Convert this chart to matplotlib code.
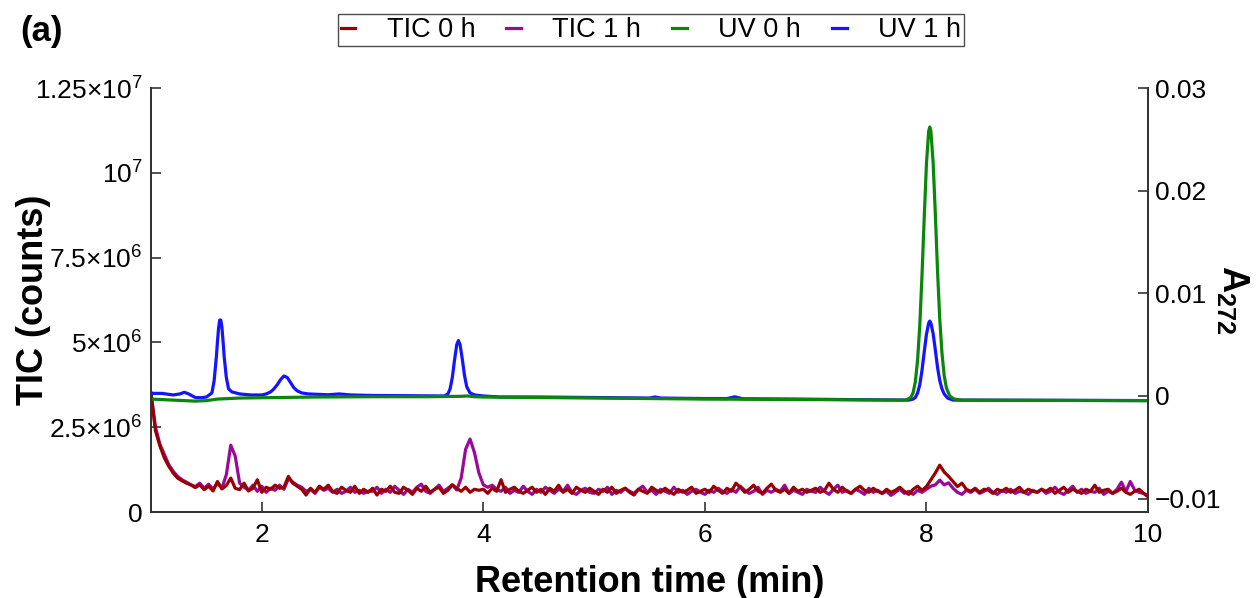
import numpy as np
import matplotlib
matplotlib.use("Agg")
import matplotlib.pyplot as plt

plt.rcParams['font.family'] = ['Liberation Sans', 'DejaVu Sans']
plt.rcParams['mathtext.fontset'] = 'custom'
plt.rcParams['mathtext.rm'] = 'Liberation Sans'
plt.rcParams['mathtext.it'] = 'Liberation Sans:italic'
plt.rcParams['mathtext.bf'] = 'Liberation Sans:bold'

# ---------------- data ----------------
# TIC sampled every 0.04 min from 1.00 to 10.00 (values in 10^6 counts)
tic_time = np.round(1.0 + 0.04 * np.arange(226), 2)

tic_0h = (
    [3.5, 2.4, 1.95, 1.6, 1.35, 1.15, 1.0, 0.92, 0.85, 0.8, 0.72, 0.8, 0.66, 0.76, 0.62, 0.9, 0.68, 0.78, 1.0, 0.7, 0.66, 0.85, 0.62, 0.7, 0.95]
    + [0.58, 0.73, 0.67, 0.79, 0.70, 0.73, 1.05, 0.85, 0.76, 0.67, 0.5, 0.70, 0.58, 0.76, 0.67, 0.79, 0.61, 0.55, 0.73, 0.64, 0.58, 0.76, 0.55, 0.67, 0.58]
    + [0.70, 0.5, 0.67, 0.61, 0.76, 0.58, 0.55, 0.73, 0.64, 0.52, 0.70, 0.61, 0.76, 0.58, 0.67, 0.73, 0.55, 0.64, 0.80, 0.70, 0.61, 0.73, 0.58, 0.67, 0.64]
    + [0.67, 0.55, 0.70, 0.61, 0.95, 0.58, 0.67, 0.73, 0.61, 0.55, 0.64, 0.73, 0.58, 0.67, 0.52, 0.70, 0.61, 0.79, 0.58, 0.67, 0.55, 0.73, 0.64, 0.58, 0.70]
    + [0.61, 0.52, 0.67, 0.58, 0.73, 0.55, 0.64, 0.70, 0.58, 0.5, 0.67, 0.61, 0.55, 0.73, 0.64, 0.58, 0.70, 0.61, 0.52, 0.67, 0.58, 0.64, 0.73, 0.55, 0.61]
    + [0.67, 0.58, 0.76, 0.64, 0.55, 0.70, 0.61, 0.85, 0.73, 0.58, 0.67, 0.79, 0.61, 0.55, 0.70, 0.82, 0.64, 0.58, 0.67, 0.55, 0.73, 0.61, 0.67, 0.58, 0.64]
    + [0.70, 0.58, 0.64, 0.85, 0.67, 0.58, 0.73, 0.61, 0.55, 0.67, 0.76, 0.64, 0.58, 0.70, 0.61, 0.55, 0.67, 0.58, 0.64, 0.73, 0.61, 0.52, 0.67, 0.76, 0.64]
    + [0.75, 0.95, 1.15, 1.38, 1.18, 1.05, 0.9, 0.75, 0.85, 0.67, 0.61, 0.70, 0.58, 0.67, 0.64, 0.55, 0.67, 0.61, 0.70, 0.58, 0.64, 0.73, 0.58, 0.67, 0.61]
    + [0.58, 0.67, 0.61, 0.70, 0.55, 0.64, 0.73, 0.58, 0.67, 0.61, 0.55, 0.67, 0.61, 0.79, 0.58, 0.64, 0.67, 0.55, 0.61, 0.70, 0.58, 0.52, 0.61, 0.67, 0.55]
    + [0.45]
)

tic_1h = (
    [3.5, 2.5, 2.0, 1.7, 1.4, 1.2, 1.05, 0.95, 0.88, 0.8, 0.75, 0.85, 0.7, 0.82, 0.67, 0.85, 0.70, 1.1, 1.97, 1.65, 0.85, 0.73, 0.64, 0.79, 0.61]
    + [0.76, 0.58, 0.70, 0.64, 0.79, 0.67, 0.98, 0.88, 0.79, 0.73, 0.61, 0.67, 0.55, 0.73, 0.64, 0.70, 0.58, 0.67, 0.55, 0.61, 0.73, 0.58, 0.64, 0.55, 0.61]
    + [0.61, 0.73, 0.55, 0.67, 0.58, 0.76, 0.64, 0.52, 0.67, 0.58, 0.73, 0.82, 0.61, 0.55, 0.67, 0.79, 0.61, 0.70, 0.80, 0.65, 1.0, 1.85, 2.15, 1.75, 1.15]
    + [0.8, 0.73, 0.79, 0.67, 0.61, 0.73, 0.55, 0.64, 0.58, 0.76, 0.61, 0.52, 0.67, 0.58, 0.73, 0.64, 0.55, 0.67, 0.61, 0.79, 0.58, 0.52, 0.64, 0.70, 0.58]
    + [0.55, 0.67, 0.61, 0.73, 0.52, 0.64, 0.58, 0.70, 0.61, 0.55, 0.67, 0.76, 0.58, 0.64, 0.52, 0.67, 0.61, 0.55, 0.73, 0.58, 0.64, 0.52, 0.61, 0.67, 0.58]
    + [0.52, 0.64, 0.58, 0.70, 0.61, 0.55, 0.67, 0.58, 0.76, 0.64, 0.55, 0.61, 0.73, 0.52, 0.64, 0.58, 0.67, 0.61, 0.79, 0.55, 0.64, 0.58, 0.52, 0.67, 0.61]
    + [0.58, 0.73, 0.61, 0.52, 0.67, 0.79, 0.58, 0.64, 0.55, 0.67, 0.61, 0.52, 0.70, 0.58, 0.64, 0.55, 0.61, 0.49, 0.58, 0.67, 0.55, 0.61, 0.52, 0.64, 0.58]
    + [0.67, 0.76, 0.8, 0.94, 0.8, 0.86, 0.70, 0.58, 0.52, 0.64, 0.58, 0.67, 0.55, 0.61, 0.70, 0.58, 0.52, 0.64, 0.58, 0.67, 0.55, 0.61, 0.58, 0.52, 0.64]
    + [0.58, 0.67, 0.55, 0.61, 0.73, 0.58, 0.52, 0.64, 0.76, 0.58, 0.67, 0.55, 0.61, 0.58, 0.70, 0.52, 0.61, 0.55, 0.67, 0.88, 0.6, 0.9, 0.64, 0.58, 0.55]
    + [0.48]
)

# UV absorbance at 272 nm
uv_0h_time = [1.0, 1.2, 1.4, 1.5, 1.6, 1.8, 2.0, 2.5, 3.0, 3.5, 3.8, 3.86, 3.92, 4.0, 5.0, 6.0, 7.0, 7.7,
              7.78, 7.82, 7.86, 7.88, 7.90, 7.92, 7.94, 7.96, 7.98, 8.00, 8.02, 8.03, 8.04, 8.06, 8.08,
              8.10, 8.12, 8.14, 8.16, 8.18, 8.21, 8.25, 8.32, 9.0, 10.0]
uv_0h = [-0.0003, -0.0004, -0.0005, -0.00045, -0.0003, -0.0002, -0.00017, -0.0001, -0.00007, -0.00007,
         -0.00003, 0.0, -0.00007, -0.0001, -0.0002, -0.0003, -0.00035, -0.0004,
         -0.0004, -0.00038, -0.00013, 0.00034, 0.0014, 0.0035, 0.0069, 0.0118, 0.0174, 0.0226, 0.0258,
         0.0262, 0.0258, 0.0228, 0.0178, 0.0122, 0.0075, 0.0042, 0.0020, 0.0008, 0.0, -0.0003, -0.0004,
         -0.00042, -0.00045]

uv_1h_time = [1.0, 1.1, 1.2, 1.26, 1.30, 1.34, 1.40, 1.45, 1.50, 1.55, 1.57, 1.59, 1.60, 1.61, 1.62, 1.63,
              1.64, 1.65, 1.66, 1.68, 1.70, 1.73, 1.80, 1.90, 2.0, 2.04, 2.08, 2.11, 2.14, 2.17, 2.20,
              2.23, 2.26, 2.29, 2.32, 2.36, 2.42, 2.6, 2.7, 2.8, 3.0, 3.3, 3.65, 3.68, 3.70, 3.72, 3.74,
              3.76, 3.775, 3.79, 3.81, 3.83, 3.85, 3.88, 3.92, 4.0, 4.15, 4.5, 5.0, 5.5, 5.55, 5.6, 6.0,
              6.2, 6.27, 6.34, 6.8, 7.3, 7.84, 7.88, 7.90, 7.92, 7.94, 7.96, 7.98, 8.00, 8.02, 8.03, 8.04,
              8.06, 8.08, 8.10, 8.12, 8.14, 8.16, 8.19, 8.24, 9.0, 10.0]
uv_1h = [0.00026, 0.00025, 0.0001, 0.0002, 0.00036, 0.0002, -0.00015, -0.00017, -0.0001, 0.0003, 0.0015,
         0.0038, 0.0053, 0.0066, 0.0074, 0.0074, 0.0067, 0.0054, 0.0039, 0.0018, 0.0007, 0.0004, 0.0002,
         0.0001, 0.0001, 0.0002, 0.0004, 0.0007, 0.0011, 0.0016, 0.00195, 0.0018, 0.0013, 0.0008, 0.0005,
         0.0003, 0.0002, 0.00012, 0.0002, 0.0001, 0.00005, 0.00003, 0.0, 0.0002, 0.0007, 0.0018, 0.0035,
         0.0050, 0.0054, 0.0050, 0.0036, 0.0020, 0.0009, 0.0003, 0.0001, 0.0, -0.0001, -0.0001, -0.00015,
         -0.0002, -0.0001, -0.0002, -0.00025, -0.00025, -0.00008, -0.00027, -0.0003, -0.00035, -0.0004,
         -0.0003, -0.00014, 0.00029, 0.0011, 0.0025, 0.0043, 0.0060, 0.0071, 0.0073, 0.0071, 0.0061, 0.0045,
         0.0028, 0.0015, 0.0007, 0.0002, -0.0002, -0.0004, -0.00042, -0.00045]

left_ticks = [0, 2.5e6, 5e6, 7.5e6, 1e7, 1.25e7]
left_labels = ['0', r'$2.5{\times}10^{6}$', r'$5{\times}10^{6}$', r'$7.5{\times}10^{6}$',
               r'$10^{7}$', r'$1.25{\times}10^{7}$']
right_ticks = [-0.01, 0, 0.01, 0.02, 0.03]
right_labels = ['\u22120.01', '0', '0.01', '0.02', '0.03']
x_ticks = [2, 4, 6, 8, 10]

c_tic0 = '#990000'
c_tic1 = '#9a0a9a'
c_uv0 = '#0a870a'
c_uv1 = '#1414ff'

# ---------------- figure ----------------
fig = plt.figure(figsize=(12.58, 5.98), dpi=100)
ax = fig.add_axes([151 / 1258, 1 - 512 / 598, 997 / 1258, 424 / 598])
ax2 = ax.twinx()

lw = 2.3
l1, = ax.plot(tic_time, np.array(tic_1h) * 1e6, color=c_tic1, lw=lw, label='TIC 1 h')
l0, = ax.plot(tic_time, np.array(tic_0h) * 1e6, color=c_tic0, lw=lw, label='TIC 0 h')
l3, = ax2.plot(uv_1h_time, uv_1h, color=c_uv1, lw=lw, label='UV 1 h')
l2, = ax2.plot(uv_0h_time, uv_0h, color=c_uv0, lw=lw, label='UV 0 h')

ax.set_xlim(1, 10)
ax.set_ylim(0, 1.25e7)
ax2.set_ylim(-0.0113, 0.03)

ax.set_xticks(x_ticks)
ax.set_xticklabels([str(v) for v in x_ticks])
ax.set_yticks(left_ticks)
ax.set_yticklabels(left_labels)
ax2.set_yticks(right_ticks)
ax2.set_yticklabels(right_labels)

spine_c = '#333333'
for a in (ax, ax2):
    a.spines['top'].set_visible(False)
    for s in ('left', 'right', 'bottom'):
        a.spines[s].set_color(spine_c)
        a.spines[s].set_linewidth(1.3)
ax.tick_params(axis='both', direction='in', length=7, width=1.2, color=spine_c,
               labelsize=19, pad=6)
ax.tick_params(axis='x', pad=8)
ax2.tick_params(axis='y', direction='in', length=7, width=1.2, color=spine_c,
                labelsize=19, pad=5)

ax.set_xlabel('Retention time (min)', fontsize=26, fontweight='bold')
ax.xaxis.set_label_coords(0.5, -0.125)
ax.set_ylabel('TIC (counts)', fontsize=26, fontweight='bold')
ax.yaxis.set_label_coords(-0.1, 0.5)

ax2.set_ylabel(r'$\mathbf{A_{272}}$', fontsize=26, rotation=270)
ax2.yaxis.label.set_verticalalignment('bottom')
ax2.yaxis.set_label_coords(1.067, 0.5)

fig.text(0.016, 0.948, '(a)', fontsize=25, fontweight='bold', va='center', ha='left')

leg = fig.legend([l0, l1, l2, l3], ['TIC 0 h', 'TIC 1 h', 'UV 0 h', 'UV 1 h'],
                 loc='center', bbox_to_anchor=(651 / 1258, 1 - 30 / 598), ncol=4,
                 frameon=True, fancybox=False, fontsize=19.5, handlelength=0.55,
                 handletextpad=1.15, columnspacing=1.15, borderpad=0.1,
                 borderaxespad=0)
leg.get_frame().set_edgecolor('#222222')
leg.get_frame().set_linewidth(1.0)

fig.savefig('out.png', dpi=100)
